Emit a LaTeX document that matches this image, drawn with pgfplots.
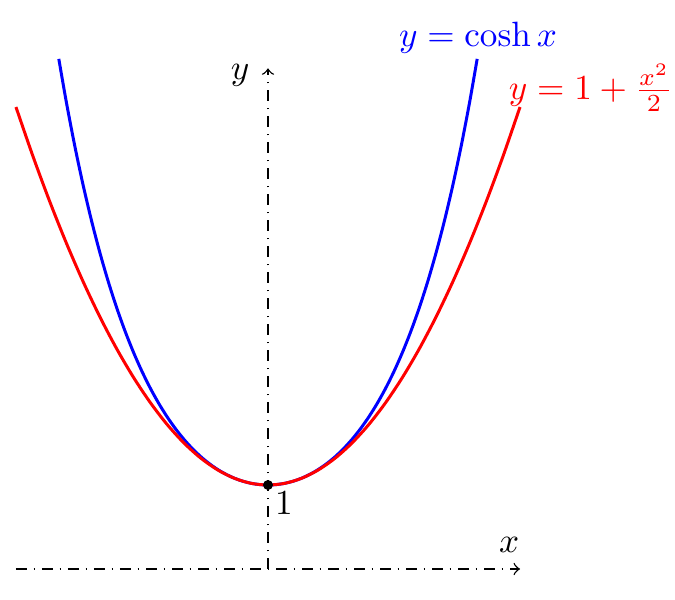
\documentclass[border=0pt]{standalone}
\usepackage{pgfplots}
\pgfplotsset{compat=1.18}
\begin{document}
\begin{tikzpicture}
\begin{axis}[
  scale only axis, width=6.75cm, height=6cm,
  xmin=-3.19, xmax=4.845, ymin=-0.369, ymax=6.774,
  axis lines=none, clip=false,
]
\path (rel axis cs:0,0) rectangle (rel axis cs:1,1);
% axes
\addplot[black, line width=0.4pt, dashdotted, ->] coordinates {(-3,0) (3,0)};
\addplot[black, line width=0.4pt, dashdotted, ->] coordinates {(0,0) (0,5.96)};
% cosh x
\addplot[blue, line width=0.85pt, smooth] coordinates {
(-2.49,6.0727) (-2.4,5.5569) (-2.3,5.0372) (-2.2,4.5679) (-2.1,4.1443) (-2.0,3.7622)
(-1.9,3.4177) (-1.8,3.1075) (-1.7,2.8283) (-1.6,2.5775) (-1.5,2.3524) (-1.4,2.1509)
(-1.3,1.9709) (-1.2,1.8107) (-1.1,1.6685) (-1.0,1.5431) (-0.9,1.4331) (-0.8,1.3374)
(-0.7,1.2552) (-0.6,1.1855) (-0.5,1.1276) (-0.4,1.0811) (-0.3,1.0453) (-0.2,1.0201)
(-0.1,1.0050) (0,1.0)
(0.1,1.0050) (0.2,1.0201) (0.3,1.0453) (0.4,1.0811) (0.5,1.1276) (0.6,1.1855)
(0.7,1.2552) (0.8,1.3374) (0.9,1.4331) (1.0,1.5431) (1.1,1.6685) (1.2,1.8107)
(1.3,1.9709) (1.4,2.1509) (1.5,2.3524) (1.6,2.5775) (1.7,2.8283) (1.8,3.1075)
(1.9,3.4177) (2.0,3.7622) (2.1,4.1443) (2.2,4.5679) (2.3,5.0372) (2.4,5.5569) (2.49,6.0727)
};
% 1 + x^2/2
\addplot[red, line width=0.85pt, smooth] coordinates {
(-3.0,5.5) (-2.8,4.92) (-2.6,4.38) (-2.4,3.88) (-2.2,3.42) (-2.0,3.0) (-1.8,2.62)
(-1.6,2.28) (-1.4,1.98) (-1.2,1.72) (-1.0,1.5) (-0.8,1.32) (-0.6,1.18) (-0.4,1.08)
(-0.2,1.02) (0,1.0) (0.2,1.02) (0.4,1.08) (0.6,1.18) (0.8,1.32) (1.0,1.5) (1.2,1.72)
(1.4,1.98) (1.6,2.28) (1.8,2.62) (2.0,3.0) (2.2,3.42) (2.4,3.88) (2.6,4.38) (2.8,4.92) (3.0,5.5)
};
\addplot[black, only marks, mark=*, mark size=1.2pt] coordinates {(0,1)};
% labels
\node[blue] at (axis cs:2.5,6.33) {$y=\cosh x$};
\node[red, anchor=west, inner sep=0pt] at (axis cs:2.86,5.73) {$y=1+\frac{x^2}{2}$};
\node at (axis cs:-0.333,5.88) {$y$};
\node at (axis cs:2.87,0.286) {$x$};
\node at (axis cs:0.19,0.786) {$1$};
\end{axis}
\end{tikzpicture}
\end{document}
